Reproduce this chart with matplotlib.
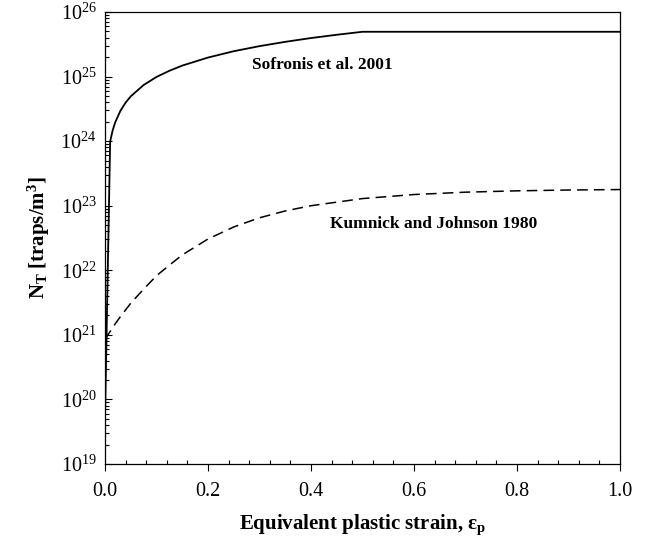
import numpy as np
import matplotlib
matplotlib.use('Agg')
import matplotlib.pyplot as plt
from matplotlib.ticker import LogLocator, MultipleLocator, NullFormatter

plt.rcParams['font.family'] = 'Liberation Serif'
plt.rcParams['mathtext.fontset'] = 'custom'
plt.rcParams['mathtext.rm'] = 'Liberation Serif'
plt.rcParams['mathtext.it'] = 'Liberation Serif:italic'
plt.rcParams['mathtext.bf'] = 'Liberation Serif:bold'

# Sofronis et al. 2001 (solid)
strain_s = [0.0, 0.01, 0.015, 0.02, 0.03, 0.04, 0.05, 0.075, 0.1, 0.125, 0.15,
            0.2, 0.25, 0.3, 0.35, 0.4, 0.45, 0.5, 1.0]
nt_s = [4.9e19, 9.9e23, 1.48e24, 1.97e24, 2.96e24, 3.95e24, 4.94e24, 7.4e24,
        9.87e24, 1.23e25, 1.48e25, 1.97e25, 2.47e25, 2.96e25, 3.45e25,
        3.95e25, 4.44e25, 4.94e25, 4.94e25]

# Kumnick and Johnson 1980 (dashed)
strain_k = [0.0, 0.01, 0.02, 0.03, 0.05, 0.075, 0.1, 0.125, 0.15, 0.2, 0.25,
            0.3, 0.35, 0.4, 0.5, 0.6, 0.7, 0.8, 0.9, 1.0]
nt_k = [8.5e20, 1.13e21, 1.49e21, 1.92e21, 3.09e21, 5.1e21, 8.24e21, 1.2e22,
        1.73e22, 3.05e22, 4.69e22, 6.5e22, 8.3e22, 1.0e23, 1.29e23, 1.49e23,
        1.62e23, 1.70e23, 1.75e23, 1.78e23]

fig = plt.figure(figsize=(6.57, 5.48), dpi=100)
ax = fig.add_axes([105/657, 1 - 464/548, 515/657, 452/548])

ax.plot(strain_s, nt_s, color='black', lw=1.3)
ax.plot(strain_k, nt_k, color='black', lw=1.1, dashes=(7, 4))

ax.set_yscale('log')
ax.set_xlim(0, 1)
ax.set_ylim(1e19, 1e26)

ax.xaxis.set_major_locator(MultipleLocator(0.2))
ax.xaxis.set_minor_locator(MultipleLocator(0.04))
ax.xaxis.set_major_formatter(plt.FuncFormatter(lambda v, p: '%.1f' % v))
ax.yaxis.set_major_locator(LogLocator(base=10, numticks=20))
ax.yaxis.set_minor_locator(LogLocator(base=10, subs=np.arange(2, 10), numticks=20))
ax.yaxis.set_minor_formatter(NullFormatter())

ax.tick_params(axis='x', which='major', direction='out', length=5, width=0.8,
               labelsize=14.5, pad=8)
ax.tick_params(axis='x', which='minor', direction='in', length=3, width=0.8)
ax.tick_params(axis='y', which='major', direction='in', length=5, width=0.8,
               labelsize=14.5, pad=6)
ax.tick_params(axis='y', which='minor', direction='in', length=3, width=0.8)

for sp in ax.spines.values():
    sp.set_linewidth(0.9)

ax.set_xlabel(r'Equivalent plastic strain, $\mathbf{ε_p}$', fontsize=15,
              fontweight='bold', labelpad=8)
ax.set_ylabel(r'N$_\mathbf{T}$ [traps/m$^\mathbf{3}$]', fontsize=15,
              fontweight='bold', labelpad=6)

ax.text(0.285, 1.5e25, 'Sofronis et al. 2001', fontsize=12.5, fontweight='bold',
        ha='left', va='center')
ax.text(0.437, 5.2e22, 'Kumnick and Johnson 1980', fontsize=12.5,
        fontweight='bold', ha='left', va='center')

fig.savefig('out.png', dpi=100)
